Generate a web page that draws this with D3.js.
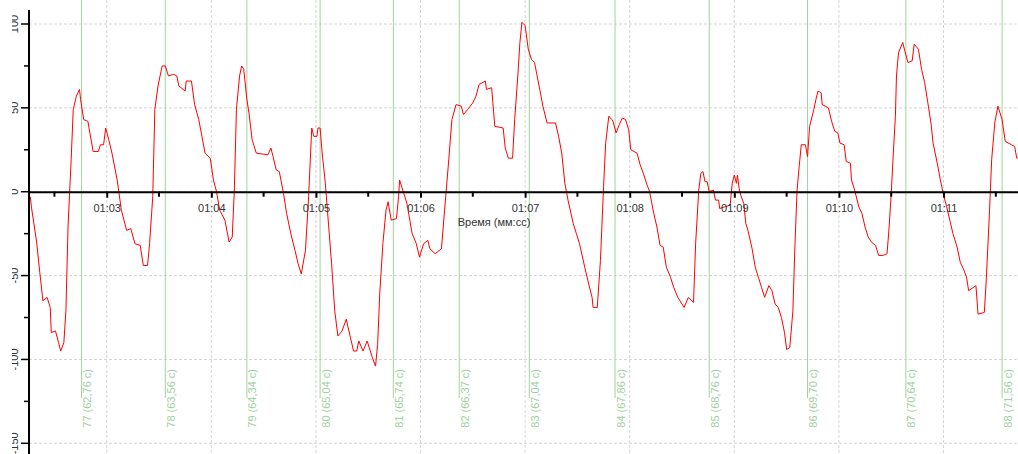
<!DOCTYPE html>
<html>
<head>
<meta charset="utf-8">
<script src="https://cdn.jsdelivr.net/npm/d3@7"></script>
<style>
  body { margin: 0; background: #fff; }
  text { font-family: "Liberation Sans", Arial, sans-serif; }
</style>
</head>
<body>
<svg id="chart" width="1018" height="454"></svg>
<script>
// signal: [time in s, value]
const signal = [
  [62.27,-3],[62.28,-9],[62.33,-30],[62.36,-48],[62.39,-65],[62.43,-63],[62.46,-69],[62.47,-84],[62.51,-83],[62.54,-90],
  [62.56,-95],[62.59,-90],[62.61,-71],[62.63,-21],[62.66,19],[62.68,49],[62.71,57],[62.74,61],[62.75,55],[62.78,43],
  [62.82,42],[62.87,24],[62.92,24],[62.94,28],[62.97,28],[62.99,38],[63.02,31],[63.05,23],[63.10,7],[63.14,-11],
  [63.19,-23],[63.23,-22],[63.27,-31],[63.32,-32],[63.35,-44],[63.39,-44],[63.41,-31],[63.44,-3],[63.46,49],[63.49,63],
  [63.53,75],[63.56,75],[63.59,69],[63.64,70],[63.67,69],[63.69,63],[63.75,60],[63.76,66],[63.81,66],[63.84,52],
  [63.88,43],[63.91,33],[63.94,23],[63.99,20],[64.02,7],[64.05,0],[64.08,-11],[64.13,-17],[64.17,-30],[64.20,-27],
  [64.22,1],[64.24,49],[64.27,69],[64.29,75],[64.31,73],[64.34,55],[64.36,47],[64.39,31],[64.43,23],[64.54,22],
  [64.57,26],[64.59,21],[64.62,13],[64.65,12],[64.69,-1],[64.72,-13],[64.76,-25],[64.80,-35],[64.83,-43],[64.86,-49],
  [64.90,-35],[64.93,-3],[64.96,38],[64.98,33],[65.01,33],[65.02,38],[65.04,38],[65.06,23],[65.09,5],[65.11,-11],
  [65.15,-43],[65.18,-71],[65.21,-86],[65.25,-83],[65.29,-76],[65.33,-87],[65.36,-95],[65.39,-95],[65.41,-89],[65.45,-95],
  [65.49,-89],[65.51,-93],[65.54,-99],[65.57,-104],[65.59,-91],[65.61,-61],[65.64,-31],[65.67,-11],[65.69,-6],[65.72,-17],
  [65.77,-16],[65.79,-3],[65.80,7],[65.84,-1],[65.87,-7],[65.92,-25],[65.96,-31],[65.99,-39],[66.03,-31],[66.07,-29],
  [66.09,-34],[66.14,-37],[66.20,-34],[66.23,-11],[66.27,19],[66.30,43],[66.34,52],[66.39,51],[66.41,46],[66.45,49],
  [66.50,53],[66.53,57],[66.56,64],[66.62,66],[66.63,61],[66.68,62],[66.71,39],[66.79,38],[66.81,26],[66.84,20],
  [66.88,20],[66.90,43],[66.93,69],[66.95,89],[66.97,101],[67.00,99],[67.03,85],[67.06,79],[67.09,77],[67.14,61],
  [67.17,51],[67.21,41],[67.29,41],[67.32,33],[67.35,23],[67.38,5],[67.41,-5],[67.46,-19],[67.49,-25],[67.52,-31],
  [67.57,-45],[67.60,-53],[67.64,-63],[67.65,-69],[67.69,-69],[67.72,-41],[67.75,3],[67.77,29],[67.80,45],[67.83,43],
  [67.84,42],[67.87,35],[67.90,40],[67.93,44],[67.96,43],[67.99,37],[68.01,25],[68.07,23],[68.10,16],[68.13,11],
  [68.16,5],[68.19,0],[68.23,-13],[68.26,-21],[68.29,-32],[68.32,-33],[68.35,-45],[68.39,-51],[68.42,-57],[68.46,-63],
  [68.52,-69],[68.56,-63],[68.61,-66],[68.63,-31],[68.66,1],[68.68,11],[68.70,12],[68.72,6],[68.74,6],[68.76,0],
  [68.80,1],[68.82,-5],[68.85,-5],[68.86,-10],[68.91,-9],[68.96,-8],[68.98,5],[69.00,10],[69.02,5],[69.03,10],
  [69.05,0],[69.09,-7],[69.11,-19],[69.13,-23],[69.17,-34],[69.20,-45],[69.23,-51],[69.26,-57],[69.29,-63],[69.33,-56],
  [69.36,-59],[69.39,-67],[69.42,-69],[69.45,-75],[69.48,-84],[69.50,-94],[69.53,-93],[69.56,-71],[69.58,-31],[69.60,1],
  [69.62,15],[69.64,28],[69.68,28],[69.70,21],[69.72,39],[69.76,49],[69.78,55],[69.80,60],[69.83,59],[69.84,52],
  [69.90,50],[69.93,42],[69.96,36],[69.99,35],[70.01,29],[70.05,28],[70.07,18],[70.11,17],[70.12,7],[70.15,1],
  [70.19,-9],[70.22,-13],[70.25,-21],[70.28,-27],[70.31,-30],[70.35,-32],[70.38,-38],[70.42,-38],[70.46,-37],[70.48,-21],
  [70.50,-1],[70.52,23],[70.54,45],[70.55,69],[70.57,83],[70.61,89],[70.63,84],[70.66,77],[70.70,78],[70.72,88],
  [70.76,85],[70.79,73],[70.82,65],[70.85,53],[70.88,41],[70.90,29],[70.94,17],[70.97,7],[71.00,-2],[71.03,-9],
  [71.06,-17],[71.09,-25],[71.13,-33],[71.16,-42],[71.19,-46],[71.22,-51],[71.24,-59],[71.31,-56],[71.33,-73],[71.39,-72],
  [71.41,-51],[71.44,-11],[71.46,19],[71.49,41],[71.52,51],[71.56,43],[71.59,30],[71.65,28],[71.68,27],[71.70,20],
  [71.72,20]
];

const markerIds = [77, 78, 79, 80, 81, 82, 83, 84, 85, 86, 87, 88];
const markerTimes = [62.76, 63.56, 64.34, 65.04, 65.74, 66.37, 67.04, 67.86, 68.76, 69.70, 70.64, 71.56];

const xTicks = [63, 64, 65, 66, 67, 68, 69, 70, 71];
const xTickLabels = ['01:03', '01:04', '01:05', '01:06', '01:07', '01:08', '01:09', '01:10', '01:11'];
const xMinorTicks = [62.5, 63.5, 64.5, 65.5, 66.5, 67.5, 68.5, 69.5, 70.5, 71.5];
const yTicks = [-150, -100, -50, 0, 50, 100];
const yTickLabels = ['-150', '-100', '-50', '0', '50', '100'];
const yMinorTicks = [-125, -75, -25, 25, 75];

const width = 1018, height = 454;
const svg = d3.select('#chart');

const x = d3.scaleLinear().domain([62.257, 71.712]).range([29, 1018]);
const y = d3.scaleLinear().domain([-150, 100]).range([443.3, 24]);

// grid
const grid = svg.append('g').attr('stroke', '#d4d4d4').attr('stroke-dasharray', '3,2');
grid.selectAll('line.h').data(yTicks).join('line')
  .attr('x1', 29).attr('x2', width)
  .attr('y1', d => y(d)).attr('y2', d => y(d));
grid.selectAll('line.v').data(xTicks).join('line')
  .attr('x1', d => x(d)).attr('x2', d => x(d))
  .attr('y1', 0).attr('y2', height);

// markers
const fmt = d3.format('.2f');
const markers = svg.append('g');
markers.selectAll('line').data(markerTimes).join('line')
  .attr('x1', d => x(d)).attr('x2', d => x(d))
  .attr('y1', 0).attr('y2', 398)
  .attr('stroke', '#9fd49f').attr('stroke-width', 1);
markers.selectAll('text').data(markerTimes).join('text')
  .attr('transform', d => `translate(${x(d) + 9.5},369) rotate(-90)`)
  .attr('text-anchor', 'end')
  .attr('fill', '#9fd09f')
  .attr('font-size', 11)
  .text((d, i) => `${markerIds[i]} (${fmt(d).replace('.', ',')} с)`);

// signal
const line = d3.line().x(d => x(d[0])).y(d => y(d[1]));
svg.append('path').datum(signal)
  .attr('d', line)
  .attr('fill', 'none')
  .attr('stroke', '#ff0000')
  .attr('stroke-width', 1);

// x axis
const xAxis = svg.append('g').attr('transform', `translate(0,${y(0)})`)
  .call(d3.axisBottom(x).tickValues(xTicks).tickFormat((d, i) => xTickLabels[i])
    .tickSize(6).tickSizeOuter(0).tickPadding(6));
xAxis.select('.domain').attr('stroke', '#000').attr('stroke-width', 2);
xAxis.selectAll('.tick line').attr('stroke', '#000').attr('stroke-width', 2);
xAxis.selectAll('.tick text').attr('fill', '#333').attr('font-size', 11)
  .attr('font-family', '"Liberation Sans", Arial, sans-serif');
svg.append('g').attr('transform', `translate(0,${y(0)})`)
  .selectAll('line').data(xMinorTicks).join('line')
  .attr('x1', d => x(d)).attr('x2', d => x(d))
  .attr('y1', 0).attr('y2', 5)
  .attr('stroke', '#000').attr('stroke-width', 2);

svg.append('text')
  .attr('x', 494).attr('y', 226)
  .attr('text-anchor', 'middle')
  .attr('fill', '#333').attr('font-size', 11)
  .text('Время (мм:сс)');

// y axis
const yAxis = svg.append('g');
yAxis.append('line')
  .attr('x1', 29).attr('x2', 29).attr('y1', 10).attr('y2', height)
  .attr('stroke', '#000').attr('stroke-width', 2);
yAxis.selectAll('line.major').data(yTicks).join('line').attr('class', 'major')
  .attr('x1', 21).attr('x2', 29)
  .attr('y1', d => y(d)).attr('y2', d => y(d))
  .attr('stroke', '#000').attr('stroke-width', 1.5);
yAxis.selectAll('line.minor').data(yMinorTicks).join('line').attr('class', 'minor')
  .attr('x1', 24).attr('x2', 29)
  .attr('y1', d => y(d)).attr('y2', d => y(d))
  .attr('stroke', '#000').attr('stroke-width', 1.5);

svg.append('clipPath').attr('id', 'ylab-clip')
  .append('rect').attr('x', 12).attr('y', 0).attr('width', 17).attr('height', height);
yAxis.append('g').attr('clip-path', 'url(#ylab-clip)')
  .selectAll('text').data(yTicks).join('text')
  .attr('transform', d => `translate(17.5,${y(d)}) rotate(-90)`)
  .attr('text-anchor', 'middle')
  .attr('fill', '#333').attr('font-size', 11)
  .text((d, i) => yTickLabels[i]);
</script>
</body>
</html>
